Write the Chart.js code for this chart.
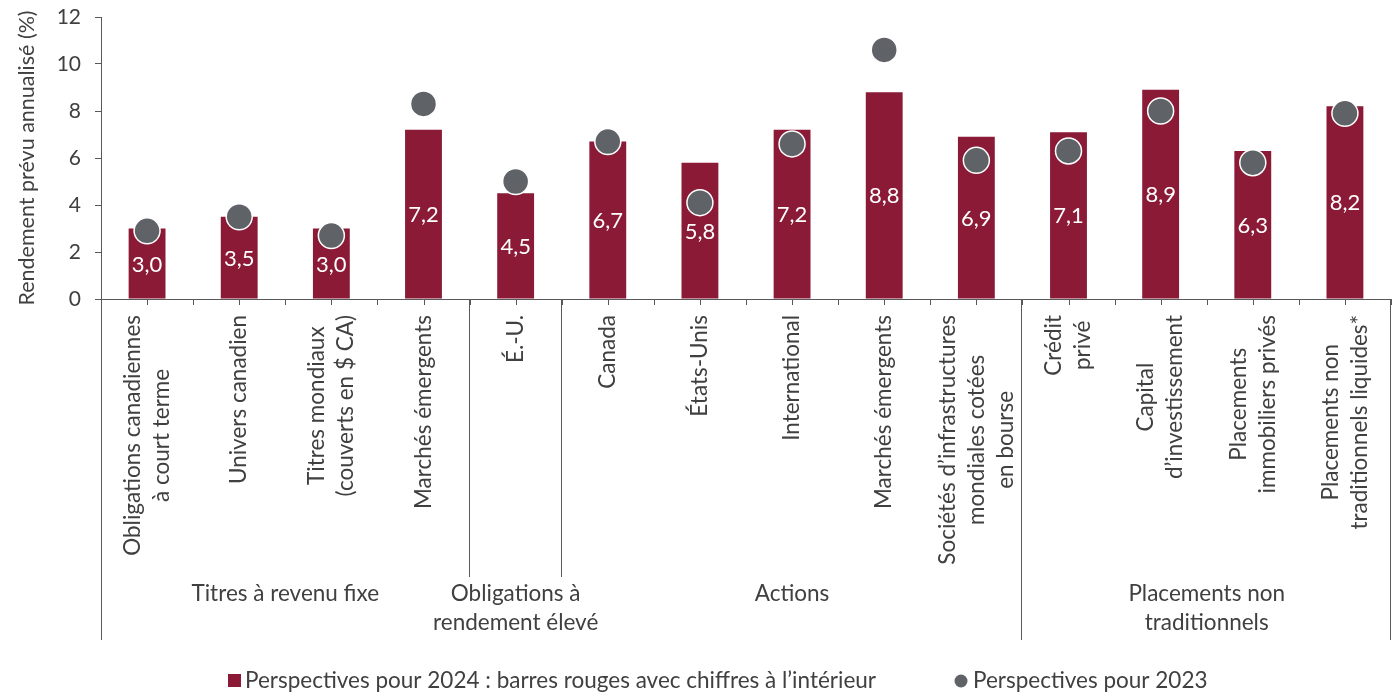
<!DOCTYPE html>
<html>
<head>
<meta charset="utf-8">
<script src="https://cdn.jsdelivr.net/npm/chart.js@4.4.1/dist/chart.umd.min.js"></script>
<style>
  html, body { margin: 0; padding: 0; background: #ffffff; }
  #wrap { width: 1393px; height: 693px; }
</style>
</head>
<body>
<div id="wrap"><canvas id="c" width="1393" height="693"></canvas></div>
<script>
// ---- Data ----
const categories = [
  ['Obligations canadiennes', 'à court terme'],
  ['Univers canadien'],
  ['Titres mondiaux', '(couverts en $ CA)'],
  ['Marchés émergents'],
  ['É.-U.'],
  ['Canada'],
  ['États-Unis'],
  ['International'],
  ['Marchés émergents'],
  ['Sociétés d’infrastructures', 'mondiales cotées', 'en bourse'],
  ['Crédit', 'privé'],
  ['Capital', 'd’investissement'],
  ['Placements', 'immobiliers privés'],
  ['Placements non', 'traditionnels liquides*']
];
const outlook2024 = [3.0, 3.5, 3.0, 7.2, 4.5, 6.7, 5.8, 7.2, 8.8, 6.9, 7.1, 8.9, 6.3, 8.2];
const outlook2023 = [2.9, 3.5, 2.7, 8.3, 5.0, 6.7, 4.1, 6.6, 10.6, 5.9, 6.3, 8.0, 5.8, 7.9];
const groupNames = [
  ['Titres à revenu fixe'],
  ['Obligations à', 'rendement élevé'],
  ['Actions'],
  ['Placements non', 'traditionnels']
];
const groupStart = [0, 4, 5, 10];
const groupEnd   = [3, 4, 9, 13];
const yTicks = [0, 2, 4, 6, 8, 10, 12];
const seriesNames = ['Perspectives pour 2024 : barres rouges avec chiffres à l’intérieur', 'Perspectives pour 2023'];
const yTitle = 'Rendement prévu annualisé (%)';

// ---- Styles ----
const FONT = 'Lato, "Open Sans", sans-serif';
const BAR = '#8a1a35';
const DOT = '#5f6266';
const TXT = '#404040';
const AXIS = '#595959';

const decorPlugin = {
  id: 'decor',
  afterDatasetDraw(chart, args) {
    if (args.index !== 0) return;
    const ctx = chart.ctx;
    const meta = chart.getDatasetMeta(0);
    ctx.save();
    ctx.fillStyle = '#ffffff';
    ctx.font = '22px ' + FONT;
    ctx.textAlign = 'center';
    ctx.textBaseline = 'middle';
    meta.data.forEach((el, i) => {
      const v = outlook2024[i].toFixed(1).replace('.', ',');
      ctx.fillText(v, el.x, (el.y + el.base) / 2 + 1);
    });
    ctx.restore();
  },
  afterDraw(chart) {
    const ctx = chart.ctx;
    const xs = chart.scales.x;
    const area = chart.chartArea;
    const n = categories.length;
    const step = xs.getPixelForValue(1) - xs.getPixelForValue(0);
    const bottom = area.bottom;
    ctx.save();
    ctx.strokeStyle = AXIS;
    ctx.lineWidth = 1;
    // ticks at centers and boundaries
    ctx.beginPath();
    for (let i = 0; i < n; i++) {
      const cx = Math.round(xs.getPixelForValue(i)) + 0.5;
      ctx.moveTo(cx, bottom); ctx.lineTo(cx, bottom + 6);
      const bx = Math.round(xs.getPixelForValue(i) + step / 2) + 0.5;
      ctx.moveTo(bx, bottom); ctx.lineTo(bx, bottom + 6);
    }
    ctx.stroke();
    // group separators
    const sepBottomShort = 577, sepBottomLong = 640;
    ctx.beginPath();
    const lx = Math.round(area.left) + 0.5;
    ctx.moveTo(lx, bottom); ctx.lineTo(lx, sepBottomLong);
    for (let g = 0; g < groupEnd.length; g++) {
      const bx = Math.round(xs.getPixelForValue(groupEnd[g]) + step / 2) - 0.5;
      const isLong = (g === groupEnd.length - 1) || (g === 2);
      ctx.moveTo(bx, bottom); ctx.lineTo(bx, isLong ? sepBottomLong : sepBottomShort);
    }
    ctx.stroke();

    // category labels, rotated
    ctx.fillStyle = TXT;
    ctx.font = '22.5px ' + FONT;
    ctx.textAlign = 'center';
    ctx.textBaseline = 'middle';
    const L = 29;
    for (let i = 0; i < n; i++) {
      const lines = categories[i];
      const W = Math.max(...lines.map(s => ctx.measureText(s).width));
      const cx = xs.getPixelForValue(i);
      ctx.save();
      ctx.translate(cx, bottom + 16);
      ctx.rotate(-Math.PI / 2);
      lines.forEach((s, k) => {
        ctx.fillText(s, -W / 2, (k - (lines.length - 1) / 2) * L);
      });
      ctx.restore();
    }

    // group labels
    ctx.font = '22.5px ' + FONT;
    for (let g = 0; g < groupNames.length; g++) {
      const x0 = xs.getPixelForValue(groupStart[g]) - step / 2;
      const x1 = xs.getPixelForValue(groupEnd[g]) + step / 2;
      const gx = (x0 + x1) / 2;
      groupNames[g].forEach((s, k) => {
        ctx.fillText(s, gx, 594 + k * 29);
      });
    }

    // legend
    const ly = 681;
    ctx.font = '22.5px ' + FONT;
    ctx.textAlign = 'left';
    ctx.fillStyle = BAR;
    ctx.fillRect(228, ly - 7, 13, 13);
    ctx.fillStyle = TXT;
    ctx.fillText(seriesNames[0], 245, ly);
    ctx.fillStyle = DOT;
    ctx.beginPath();
    ctx.arc(961, ly, 6.5, 0, Math.PI * 2);
    ctx.fill();
    ctx.fillStyle = TXT;
    ctx.fillText(seriesNames[1], 973, ly);
    ctx.restore();
  }
};

new Chart(document.getElementById('c'), {
  data: {
    labels: categories.map(c => c.join(' ')),
    datasets: [
      {
        type: 'bar',
        label: seriesNames[0],
        data: outlook2024,
        backgroundColor: BAR,
        borderWidth: 0,
        barPercentage: 0.4,
        categoryPercentage: 1.0,
        order: 1
      },
      {
        type: 'line',
        label: seriesNames[1],
        data: outlook2023,
        showLine: false,
        clip: false,
        pointRadius: 13,
        pointHoverRadius: 13,
        pointBackgroundColor: DOT,
        pointBorderColor: '#ffffff',
        pointBorderWidth: 1.5,
        order: 0
      }
    ]
  },
  options: {
    responsive: false,
    animation: false,
    layout: { autoPadding: false, padding: { top: 17, right: 2, bottom: 0, left: 0 } },
    plugins: {
      legend: { display: false },
      tooltip: { enabled: false }
    },
    scales: {
      x: {
        type: 'category',
        offset: true,
        grid: { display: false },
        border: { display: true, color: AXIS, width: 1 },
        ticks: { display: false },
        afterFit(s) {
          s.height = 693 - 299;
          s.paddingLeft = 0; s.paddingRight = 0;
        }
      },
      y: {
        min: 0,
        max: 12,
        afterBuildTicks(s) { s.ticks = yTicks.map(v => ({ value: v })); },
        grid: { drawOnChartArea: false, tickLength: 6, color: AXIS },
        border: { display: true, color: AXIS, width: 1 },
        ticks: {
          color: TXT,
          padding: 14,
          font: { family: FONT, size: 21 }
        },
        title: {
          display: true,
          text: yTitle,
          color: TXT,
          font: { family: FONT, size: 21.5 },
          padding: { top: 14, bottom: 0 }
        },
        afterFit(s) {
          s.width = 101;
          s.paddingTop = 0; s.paddingBottom = 0;
        }
      }
    }
  },
  plugins: [decorPlugin]
});
</script>
</body>
</html>
